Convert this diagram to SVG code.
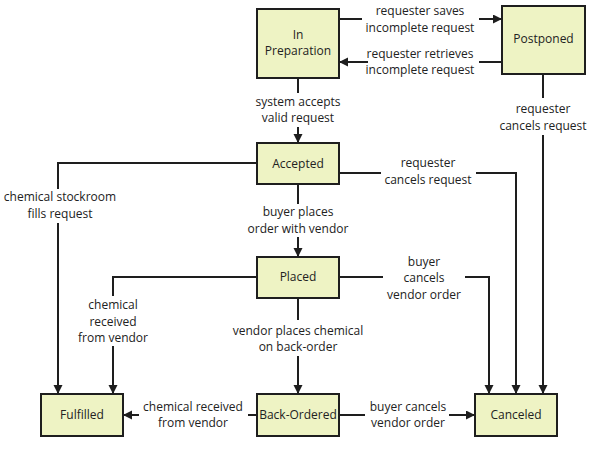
<svg xmlns="http://www.w3.org/2000/svg" width="600" height="449" viewBox="0 0 600 449">
<style>
.node rect{fill:#eef3c4;stroke:#1e1e1e;stroke-width:2}
text{font-family:"Open Sans","Noto Sans","Liberation Sans",sans-serif;font-size:12px;fill:#222;text-anchor:middle}
.edges path{fill:none;stroke:#1e1e1e;stroke-width:2}
</style>
<defs>
<marker id="ah" markerWidth="10" markerHeight="10" refX="9" refY="4.5" orient="auto" markerUnits="userSpaceOnUse">
<path d="M0,0 L9,4.5 L0,9 z" fill="#1e1e1e"/>
</marker>
</defs>
<rect width="600" height="449" fill="#fff"/>
<g id="inprep" class="node"><rect x="257" y="9" width="82" height="69"/><text x="298" y="38.75">In</text><text x="298" y="55.25">Preparation</text></g>
<g id="postponed" class="node"><rect x="502" y="6" width="83" height="68"/><text x="543.5" y="43">Postponed</text></g>
<g id="accepted" class="node"><rect x="257" y="143" width="82" height="41"/><text x="298" y="167.5">Accepted</text></g>
<g id="placed" class="node"><rect x="257" y="257" width="82" height="41"/><text x="298" y="281">Placed</text></g>
<g id="fulfilled" class="node"><rect x="41" y="394" width="82" height="42"/><text x="82" y="419">Fulfilled</text></g>
<g id="backordered" class="node"><rect x="257" y="394" width="82" height="42"/><text x="298" y="419">Back-Ordered</text></g>
<g id="canceled" class="node"><rect x="475" y="394" width="82" height="42"/><text x="516" y="419">Canceled</text></g>
<g class="edges">
<path d="M339,19 H362"/><path d="M479,19 H502" marker-end="url(#ah)"/>
<path d="M502,62 H479"/><path d="M368,62 H339" marker-end="url(#ah)"/>
<path d="M298,78 V93"/><path d="M298,127 V143" marker-end="url(#ah)"/>
<path d="M543,74 V98"/><path d="M543,135 V394" marker-end="url(#ah)"/>
<path d="M339,173 H381"/><path d="M476,173 H516 V394" marker-end="url(#ah)"/>
<path d="M257,163 H58 V189"/><path d="M58,223 V394" marker-end="url(#ah)"/>
<path d="M298,184 V204"/><path d="M298,237 V257" marker-end="url(#ah)"/>
<path d="M339,277 H383"/><path d="M465,277 H489 V394" marker-end="url(#ah)"/>
<path d="M257,277 H113 V296"/><path d="M113,346 V394" marker-end="url(#ah)"/>
<path d="M298,298 V320"/><path d="M298,356 V394" marker-end="url(#ah)"/>
<path d="M257,415 H248"/><path d="M139,415 H123" marker-end="url(#ah)"/>
<path d="M339,415 H365"/><path d="M449,415 H475" marker-end="url(#ah)"/>
</g>
<g id="labels">
<text x="420" y="15.25">requester saves</text><text x="420" y="31.75">incomplete request</text>
<text x="420" y="57.75">requester retrieves</text><text x="420" y="74.25">incomplete request</text>
<text x="298" y="105.75">system accepts</text><text x="298" y="122.25">valid request</text>
<text x="543" y="113.25">requester</text><text x="543" y="129.75">cancels request</text>
<text x="428" y="167.25">requester</text><text x="428" y="183.75">cancels request</text>
<text x="60" y="201.25">chemical stockroom</text><text x="60" y="217.75">fills request</text>
<text x="298" y="216.25">buyer places</text><text x="298" y="232.75">order with vendor</text>
<text x="424" y="265.5">buyer</text><text x="424" y="282">cancels</text><text x="424" y="298.5">vendor order</text>
<text x="113" y="309.2">chemical</text><text x="113" y="325.7">received</text><text x="113" y="342.2">from vendor</text>
<text x="298" y="334.75">vendor places chemical</text><text x="298" y="351.25">on back-order</text>
<text x="193" y="410.75">chemical received</text><text x="193" y="427.25">from vendor</text>
<text x="408" y="410.75">buyer cancels</text><text x="408" y="427.25">vendor order</text>
</g>
</svg>
